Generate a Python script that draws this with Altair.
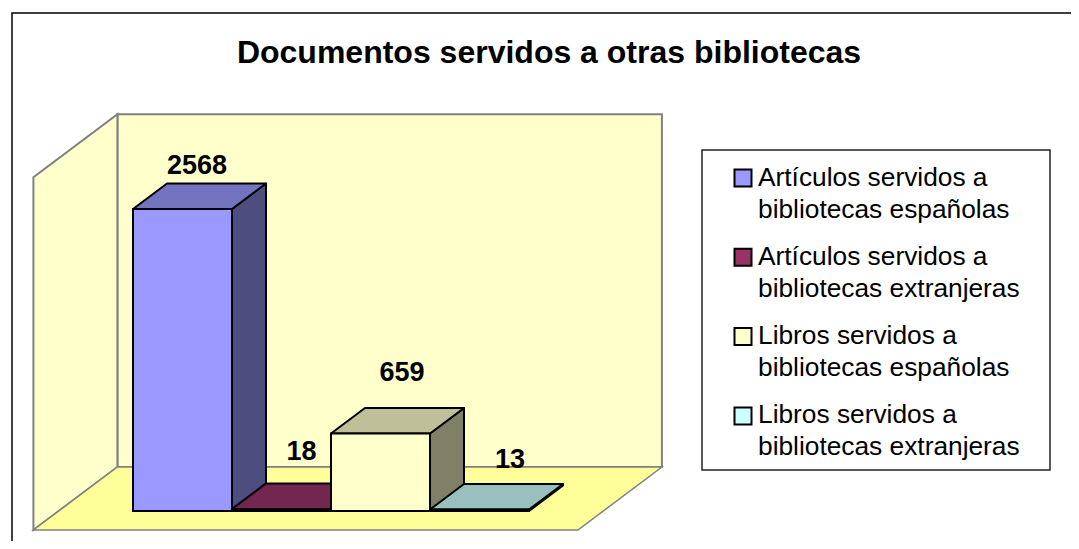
import altair as alt
import pandas as pd

# ---------------- data ----------------
TITLE = "Documentos servidos a otras bibliotecas"
categories = [
    "Artículos servidos a bibliotecas españolas",
    "Artículos servidos a bibliotecas extranjeras",
    "Libros servidos a bibliotecas españolas",
    "Libros servidos a bibliotecas extranjeras",
]
legend_labels = [
    "Artículos servidos a\nbibliotecas españolas",
    "Artículos servidos a\nbibliotecas extranjeras",
    "Libros servidos a\nbibliotecas españolas",
    "Libros servidos a\nbibliotecas extranjeras",
]
values = [2568, 18, 659, 13]
AXIS_MAX = 3000

# ---------------- styles ----------------
FRONT_COLORS = ["#9999FF", "#993366", "#FFFFCC", "#CCFFFF"]
TOP_COLORS = ["#7373BF", "#732650", "#BFBF99", "#99BFBF"]
SIDE_COLORS = ["#4D4D80", "#4D1A33", "#808066", "#668080"]
LABEL_DX = [-2.5, 3, 4.5, 13.5]
LABEL_DY = [-17.5, -31.5, -35, -24]
FONT = "Liberation Sans"

# ---------------- geometry helpers ----------------
W, H = 1063, 533
MARGIN = 8
UNIT_PX = 99.0            # one category slot in pixels
ORIGIN = (133.0, 511.0)   # pixel of (x=0, value=0) on the bar front plane
K = 302.0 / 2568.0        # pixels per value unit
DXU = 34.0 / UNIT_PX      # x shift for one bar depth
DYV = 25.5 / K            # value shift for one bar depth
ZF = -19.0 / 25.5         # floor front depth
ZB = 44.0 / 25.5          # back wall depth
FLOOR_L, FLOOR_R = -0.75, len(values) + 0.75


def x_of(px):
    return (px - ORIGIN[0]) / UNIT_PX


def y_of(py):
    return (ORIGIN[1] - py) / K


XS = alt.Scale(domain=[x_of(MARGIN), x_of(MARGIN + W)], nice=False, zero=False)
YS = alt.Scale(domain=[y_of(MARGIN + H), y_of(MARGIN)], nice=False, zero=False)


def X(f):
    return alt.X(f, type="quantitative", scale=XS, axis=None, stack=None)


def Y(f):
    return alt.Y(f, type="quantitative", scale=YS, axis=None, stack=None)


# ---------------- walls & floor ----------------
back = pd.DataFrame([{
    "x": FLOOR_L + ZB * DXU, "x2": FLOOR_R + ZB * DXU,
    "y": ZB * DYV, "y2": AXIS_MAX + ZB * DYV,
}])
back_wall = alt.Chart(back).mark_rect(
    fill="#FFFFCC", stroke="#808080", strokeWidth=2
).encode(x=X("x"), x2="x2", y=Y("y"), y2="y2")

left = pd.DataFrame([
    {"sx": FLOOR_L + ZF * DXU, "sy": ZF * DYV, "sy2": AXIS_MAX + ZF * DYV},
    {"sx": FLOOR_L + ZB * DXU, "sy": ZB * DYV, "sy2": AXIS_MAX + ZB * DYV},
])
left_wall = alt.Chart(left).mark_area(
    orient="vertical", fill="#FFFFCC", stroke="#808080", strokeWidth=2
).encode(x=X("sx"), y=Y("sy"), y2="sy2")

floor = pd.DataFrame([
    {"sy": ZF * DYV, "sx": FLOOR_L + ZF * DXU, "sx2": FLOOR_R + ZF * DXU},
    {"sy": ZB * DYV, "sx": FLOOR_L + ZB * DXU, "sx2": FLOOR_R + ZB * DXU},
])
floor_layer = alt.Chart(floor).mark_area(
    orient="horizontal", fill="#FFFF99", stroke="#808080", strokeWidth=1.5
).encode(y=Y("sy"), x=X("sx"), x2="sx2")

# ---------------- bars ----------------
side_rows, top_rows, front_rows, label_layers = [], [], [], []
for i, (cat, v) in enumerate(zip(categories, values)):
    side_rows += [
        {"bar": cat, "col": SIDE_COLORS[i], "sx": i + 1, "sy": 0, "sy2": v},
        {"bar": cat, "col": SIDE_COLORS[i], "sx": i + 1 + DXU, "sy": DYV, "sy2": v + DYV},
    ]
    top_rows += [
        {"bar": cat, "col": TOP_COLORS[i], "sy": v, "sx": i, "sx2": i + 1},
        {"bar": cat, "col": TOP_COLORS[i], "sy": v + DYV, "sx": i + DXU, "sx2": i + 1 + DXU},
    ]
    front_rows.append({"bar": cat, "col": FRONT_COLORS[i], "x": i, "x2": i + 1, "y": 0, "y2": v})
    lab = pd.DataFrame([{"lx": i + 0.5 + DXU / 2, "ly": v + DYV, "t": str(v)}])
    label_layers.append(
        alt.Chart(lab).mark_text(
            font=FONT, fontSize=27, fontWeight="bold", color="black",
            align="center", baseline="middle", dx=LABEL_DX[i], dy=LABEL_DY[i]
        ).encode(x=X("lx"), y=Y("ly"), text="t:N")
    )

sides = alt.Chart(pd.DataFrame(side_rows)).mark_area(
    orient="vertical", stroke="black", strokeWidth=2, strokeJoin="round"
).encode(x=X("sx"), y=Y("sy"), y2="sy2", detail="bar:N",
         fill=alt.Fill("col:N", scale=None))

tops = alt.Chart(pd.DataFrame(top_rows)).mark_area(
    orient="horizontal", stroke="black", strokeWidth=2, strokeJoin="round"
).encode(y=Y("sy"), x=X("sx"), x2="sx2", detail="bar:N",
         fill=alt.Fill("col:N", scale=None))

fronts = alt.Chart(pd.DataFrame(front_rows)).mark_rect(
    stroke="black", strokeWidth=2
).encode(x=X("x"), x2="x2", y=Y("y"), y2="y2",
         fill=alt.Fill("col:N", scale=None))

# ---------------- legend ----------------
LEG_BOX = (702, 150, 1050, 470)
LEG_Y0, LEG_STEP = 178.0, 79.3
leg_box = alt.Chart(pd.DataFrame([{
    "x": x_of(LEG_BOX[0]), "x2": x_of(LEG_BOX[2]),
    "y": y_of(LEG_BOX[1]), "y2": y_of(LEG_BOX[3]),
}])).mark_rect(fill="white", stroke="#222222", strokeWidth=1.5).encode(
    x=X("x"), x2="x2", y=Y("y"), y2="y2")

leg_df = pd.DataFrame({
    "label": legend_labels,
    "col": FRONT_COLORS,
    "sy": [y_of(LEG_Y0 + LEG_STEP * i) for i in range(len(categories))],
})
leg_sym = alt.Chart(leg_df).mark_square(
    size=17 * 17, stroke="black", strokeWidth=2, opacity=1
).encode(x=alt.value(743 - MARGIN), y=Y("sy"), fill=alt.Fill("col:N", scale=None))

leg_txt = alt.Chart(leg_df).mark_text(
    font=FONT, fontSize=26.3, color="black", align="left",
    baseline="alphabetic", lineBreak="\n", lineHeight=32, dy=7.5
).encode(x=alt.value(758 - MARGIN), y=Y("sy"), text="label:N")

# ---------------- title & frame ----------------
title_layer = alt.Chart(pd.DataFrame([{"t": TITLE}])).mark_text(
    font=FONT, fontSize=32, fontWeight="bold", color="black",
    align="center", baseline="middle"
).encode(x=alt.value(549 - MARGIN), y=alt.value(53 - MARGIN), text="t:N")

frame = alt.Chart(pd.DataFrame([{
    "x": x_of(12), "x2": x_of(1120), "y": y_of(13), "y2": y_of(600),
}])).mark_rect(fillOpacity=0, stroke="black", strokeWidth=1.5).encode(
    x=X("x"), x2="x2", y=Y("y"), y2="y2")

chart = alt.layer(
    back_wall, left_wall, floor_layer, sides, tops, fronts,
    *label_layers, leg_box, leg_sym, leg_txt, title_layer, frame
).properties(
    width=W, height=H, padding=0,
    autosize=alt.AutoSizeParams(type="none"),
    background="white",
).configure_view(strokeWidth=0)

chart.save("out.html", embed_options={"renderer": "svg", "actions": False})
